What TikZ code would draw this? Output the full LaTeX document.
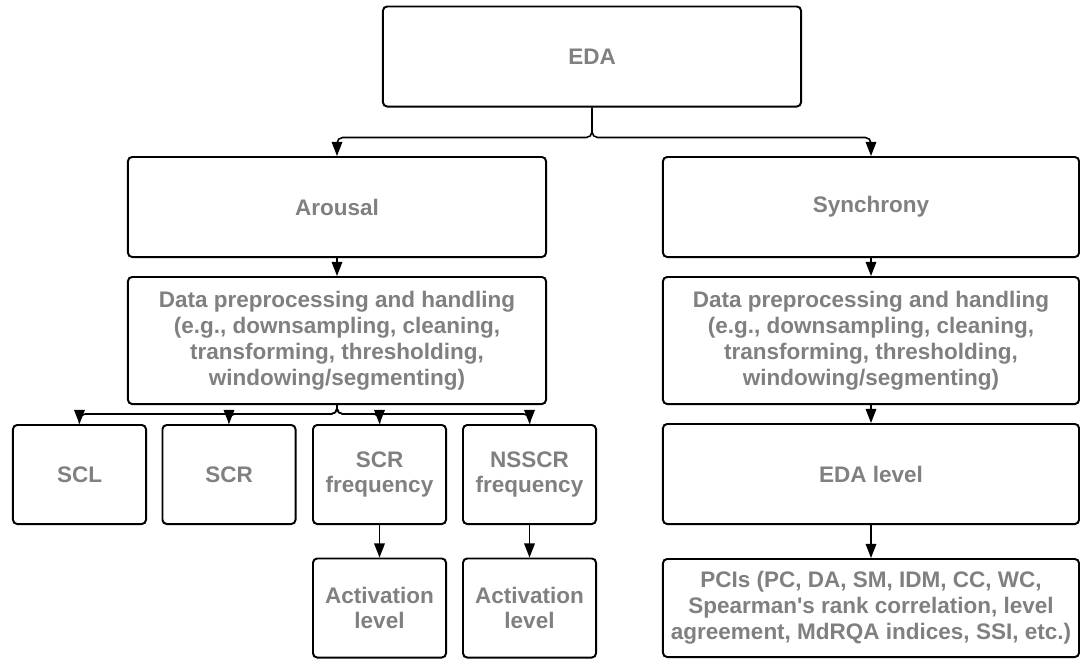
\documentclass[tikz,border=0pt]{standalone}
\usepackage{fontspec}
\setmainfont{Liberation Sans}
\usetikzlibrary{arrows.meta}
\definecolor{labelgray}{HTML}{808080}

\begin{document}
\begin{tikzpicture}[x=0.025cm,y=-0.025cm,
    >={Triangle[length=10pt,width=7.5pt]},
    box/.style={draw,rounded corners=3pt,line width=1.4pt,align=center,inner sep=0pt,
      text=labelgray,font=\fontsize{16}{18.4}\selectfont\bfseries},
    bigbox/.style={box,minimum width=10.45cm,minimum height=2.5cm},
    prepbox/.style={box,minimum width=10.45cm,minimum height=3.175cm},
    smallbox/.style={box,minimum width=3.325cm,minimum height=2.475cm},
    link/.style={line width=1.1pt,rounded corners=4pt}]
                \useasboundingbox (0,0) rectangle (1080,659);

                \node[bigbox] (eda) at (592,56.5) {EDA};
                \node[bigbox] (arousal) at (337,207) {Arousal};
                \node[bigbox,minimum width=10.4cm] (sync) at (871,207) {Synchrony};
                \node[prepbox] (prepa) at (337,340.5) {Data preprocessing and handling\\(e.g., downsampling, cleaning,\\transforming, thresholding,\\windowing/segmenting)};
                \node[prepbox,minimum width=10.4cm] (preps) at (871,340.5) {Data preprocessing and handling\\(e.g., downsampling, cleaning,\\transforming, thresholding,\\windowing/segmenting)};
                \node[smallbox] (scl) at (79.5,474.5) {SCL};
                \node[smallbox] (scr) at (229,474.5) {SCR};
                \node[smallbox] (scrfreq) at (379.5,474.5) {SCR\\frequency};
                \node[smallbox] (nsscrfreq) at (529.5,474.5) {NSSCR\\frequency};
                \node[smallbox] (actscr) at (379.5,608) {Activation\\level};
                \node[smallbox] (actnsscr) at (529.5,608) {Activation\\level};
                \node[bigbox,minimum width=10.4cm] (edalevel) at (871,474) {EDA level};
                \node[bigbox,minimum width=10.4cm,minimum height=2.45cm] (pcis) at (871,608) {PCIs (PC, DA, SM, IDM, CC, WC,\\Spearman\textquotesingle s rank correlation, level\\agreement, MdRQA indices, SSI, etc.)};

                \draw[->,link] (eda.south) -- ++(0,30) -| (arousal.north);
                \draw[->,link] (eda.south) -- ++(0,30) -| (sync.north);
                \draw[->,link] (arousal) -- (prepa);
                \draw[->,link] (sync) -- (preps);
                \draw[->,link] (prepa.south) -- ++(0,9) -| (scl.north);
                \draw[->,link] (prepa.south) -- ++(0,9) -| (scr.north);
                \draw[->,link] (prepa.south) -- ++(0,9) -| (scrfreq.north);
                \draw[->,link] (prepa.south) -- ++(0,9) -| (nsscrfreq.north);
                \draw[->,link] (scrfreq) -- (actscr);
                \draw[->,link] (nsscrfreq) -- (actnsscr);
                \draw[->,link] (preps) -- (edalevel);
                \draw[->,link] (edalevel) -- (pcis);
            \end{tikzpicture}
\end{document}
